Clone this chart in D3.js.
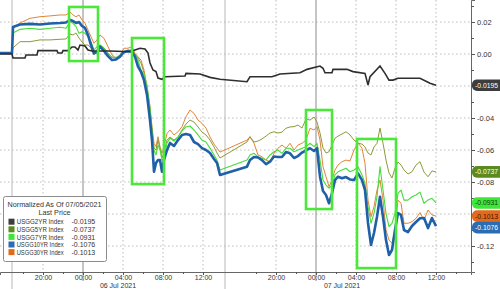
<!DOCTYPE html>
<html>
<head>
<meta charset="utf-8">
<script src="https://d3js.org/d3.v7.min.js"></script>
<style>
  body { margin: 0; background: #fff; }
  text { font-family: "Liberation Sans", Arial, sans-serif; fill: #333; }
</style>
</head>
<body>
<script>
    // time = hours from 06 Jul 2021 00:00 (the evening gap on 06 Jul is squeezed out)
    var times = [-8.3, -7.1, -7.0, -6.3, -5.3, -4.3, -3.3, -2.3, -1.7, -1.3,
                 -1.0, -0.7, -0.4, -0.1, 0.2, 0.5, 0.8, 1.1, 1.4, 1.7,
                 2.1, 2.5, 2.9, 3.3, 3.7, 4.1, 4.5, 4.9, 5.2, 5.5,
                 5.8, 6.1, 6.4, 6.7, 6.9, 7.1, 7.3, 7.5, 7.7, 7.9,
                 8.1, 8.4, 8.7, 9.1, 9.5, 9.9, 10.3, 10.7, 11.1, 11.5,
                 11.9, 12.3, 12.7, 13.1, 13.4, 13.7,
                 17.1, 17.4, 17.8, 18.2,
                 18.6, 19.0, 19.4, 19.8, 20.2, 20.6, 21.0, 21.4, 21.8, 22.2,
                 22.6, 23.0, 23.4, 23.8, 24.1, 24.4, 24.7, 25.0, 25.3, 25.6,
                 25.9, 26.2, 26.6, 27.0, 27.4, 27.8, 28.2, 28.6, 28.9, 29.2,
                 29.5, 29.8, 30.1, 30.4, 30.7, 31.0, 31.3, 31.6, 31.9, 32.2,
                 32.5, 32.8, 33.2, 33.6, 34.0, 34.4, 34.8, 35.2, 35.6, 36.0];

    var usgg5 = [0.0006, 0.0006, 0.0038, 0.0077, 0.0077, 0.0088, 0.0088, 0.0092, 0.0094, 0.0125,
                 0.0119, 0.0131, 0.01, 0.0075, 0.0056, 0.0056, 0.0038, -0.0006, 0.0025, 0.0056,
                 0.0038, 0.0006, -0.0019, -0.0025, -0.0013, 0.0013, 0.0019, 0.0025, 0, -0.0025,
                 -0.0056, -0.0119, -0.0225, -0.035, -0.0475, -0.0588, -0.06, -0.0538, -0.0588, -0.065,
                 -0.0613, -0.0538, -0.0519, -0.0538, -0.0519, -0.0475, -0.0438, -0.0413, -0.0425, -0.0456,
                 -0.0488, -0.0506, -0.0538, -0.0581, -0.0619, -0.065,
                 -0.055, -0.0517, -0.055, -0.0544,
                 -0.0531, -0.0513, -0.0494, -0.0486, -0.0494, -0.0488, -0.0464, -0.0456, -0.0454, -0.0444,
                 -0.0463, -0.0406, -0.0413, -0.0394, -0.0425, -0.0494, -0.0588, -0.0619, -0.0611, -0.0569,
                 -0.0527, -0.0513, -0.05, -0.0486, -0.0506, -0.0538, -0.0558, -0.0563, -0.0581, -0.0619,
                 -0.0631, -0.0581, -0.0558, -0.0463, -0.0558, -0.0663, -0.0744, -0.0775, -0.0713, -0.0675,
                 -0.0694, -0.0725, -0.075, -0.0736, -0.0694, -0.0673, -0.0738, -0.0767, -0.0731, -0.0737];

    var usgg7 = [0.0006, 0.0006, 0.0131, 0.0154, 0.0161, 0.0154, 0.0161, 0.0167, 0.0161, 0.0202,
                 0.0192, 0.0171, 0.0129, 0.0139, 0.0129, 0.0108, 0.0077, 0.0025, 0.0046, 0.0056,
                 0.0036, 0.0004, -0.0021, -0.0021, -0.0006, 0.0014, 0.0025, 0.0025, -0.0006, -0.0038,
                 -0.01, -0.0131, -0.0194, -0.0338, -0.0475, -0.06, -0.0631, -0.0569, -0.06, -0.0663,
                 -0.065, -0.0556, -0.0525, -0.0544, -0.0519, -0.0481, -0.0456, -0.045, -0.0475, -0.0506,
                 -0.0538, -0.055, -0.0588, -0.0631, -0.0663, -0.0725,
                 -0.0663, -0.0631, -0.0621, -0.0642,
                 -0.0652, -0.0663, -0.0631, -0.0611, -0.06, -0.0621, -0.0589, -0.0589, -0.0611, -0.06,
                 -0.0589, -0.0579, -0.0558, -0.0579, -0.0558, -0.0663, -0.0788, -0.0819, -0.0839, -0.0819,
                 -0.0756, -0.0736, -0.0725, -0.0714, -0.0736, -0.0725, -0.0704, -0.0756, -0.0808, -0.0954,
                 -0.1058, -0.0996, -0.0892, -0.0704, -0.085, -0.0996, -0.1079, -0.1058, -0.0996, -0.0871,
                 -0.085, -0.0913, -0.0913, -0.0892, -0.0881, -0.0863, -0.0933, -0.0913, -0.0902, -0.0931];

    var usgg10 = [0.0006, 0.0006, 0.0169, 0.0184, 0.0188, 0.0184, 0.0191, 0.0194, 0.0197, 0.0213,
                  0.0206, 0.0194, 0.02, 0.0175, 0.0163, 0.0119, 0.0056, 0.0004, 0.0014, 0.0046,
                  0.0019, -0.0013, -0.0038, -0.0034, -0.0017, 0.0013, 0.0019, 0.0014, -0.0017, -0.0079,
                  -0.0111, -0.0163, -0.0256, -0.0413, -0.0538, -0.0736, -0.0681, -0.0663, -0.0663, -0.0736,
                  -0.0663, -0.06, -0.0556, -0.0575, -0.0538, -0.0506, -0.05, -0.0506, -0.055, -0.0563,
                  -0.0588, -0.06, -0.0619, -0.0656, -0.0681, -0.0756,
                  -0.0704, -0.0663, -0.0644, -0.0647,
                  -0.0663, -0.0688, -0.0673, -0.0641, -0.0644, -0.0644, -0.0613, -0.0621, -0.065, -0.0638,
                  -0.0616, -0.0603, -0.0589, -0.0606, -0.0589, -0.0767, -0.0856, -0.0881, -0.0933, -0.0871,
                  -0.0788, -0.0767, -0.0777, -0.0769, -0.0784, -0.0788, -0.0746, -0.0788, -0.085, -0.1056,
                  -0.1194, -0.1119, -0.1017, -0.0892, -0.1017, -0.1163, -0.1256, -0.1225, -0.11, -0.0994,
                  -0.1006, -0.11, -0.1113, -0.1075, -0.105, -0.1027, -0.1025, -0.1088, -0.1025, -0.1076];

    var usgg30 = [0.0006, 0.0006, 0.0163, 0.0194, 0.0223, 0.0233, 0.0238, 0.0244, 0.0244, 0.0263,
                  0.0244, 0.0233, 0.0244, 0.0213, 0.0192, 0.015, 0.0108, 0.0067, 0.0088, 0.0119,
                  0.0098, 0.0046, -0.0006, -0.0027, -0.0006, 0.0036, 0.0036, 0.0046, 0.0004, -0.0017,
                  -0.0038, -0.01, -0.0204, -0.0329, -0.0454, -0.0558, -0.0579, -0.0517, -0.0579, -0.0621,
                  -0.0579, -0.0496, -0.0475, -0.0506, -0.0486, -0.0454, -0.0392, -0.035, -0.0371, -0.0413,
                  -0.0433, -0.0463, -0.0519, -0.0563, -0.0588, -0.0613,
                  -0.0538, -0.0517, -0.0558, -0.0631,
                  -0.0642, -0.0663, -0.0673, -0.0621, -0.0589, -0.0569, -0.0589, -0.0558, -0.06, -0.0569,
                  -0.0558, -0.0538, -0.0464, -0.0475, -0.0454, -0.0538, -0.0704, -0.0767, -0.0829, -0.0788,
                  -0.0725, -0.0694, -0.0673, -0.0663, -0.0669, -0.06, -0.0556, -0.0589, -0.0683, -0.0913,
                  -0.1017, -0.0954, -0.085, -0.0788, -0.0913, -0.11, -0.1163, -0.1183, -0.11, -0.0913,
                  -0.0933, -0.1058, -0.1058, -0.1048, -0.1027, -0.0991, -0.1038, -0.0975, -0.1006, -0.1013];

    // 2yr moves in steps, so it keeps its own time stamps
    var usgg2Times = [-8.3, -7.1, -7.0, -5.8, -5.7, -4.6, -4.5, -2.6, -2.5, -2.1,
                      -2.0, -1.5, -1.1, -0.8, -0.5, -0.3, 0.2, 0.5, 0.9, 2.7,
                      4.7, 5.2, 5.7, 6.2, 6.5, 6.7, 7.0, 7.3, 7.5, 7.9,
                      8.2, 10.2, 10.3, 11.7, 12.7, 13.7, 17.1, 17.4, 19.6, 20.4,
                      22.4, 23.1, 24.4, 24.7, 24.9, 25.6, 25.7, 27.1, 27.7, 28.9,
                      29.2, 29.4, 30.4, 30.9, 31.3, 31.7, 32.2, 34.4, 35.1, 35.4, 36.0];
    var usgg2 = [0, 0, -0.0025, -0.0025, -0.0006, -0.0006, 0.0021, 0.0021, 0.0006, 0.0006,
                 0.0021, 0.0021, 0.0044, 0.0044, 0.0025, 0.0056, 0.005, 0.0025, 0.0019, 0.0019,
                 0.0014, 0.0025, 0.0036, 0.0031, 0.0006, -0.0056, -0.01, -0.011, -0.015, -0.0158,
                 -0.0142, -0.0138, -0.0121, -0.0125, -0.0146, -0.0158, -0.0173, -0.0142, -0.0142, -0.0125,
                 -0.0117, -0.0096, -0.0075, -0.0089, -0.0117, -0.0117, -0.0096, -0.0096, -0.011, -0.0121,
                 -0.0194, -0.0142, -0.0075, -0.0121, -0.0163, -0.0163, -0.0152, -0.0152, -0.0173, -0.0183, -0.0195];

    var names = ["USGG2YR Index", "USGG5YR Index", "USGG7YR Index", "USGG10YR Index", "USGG30YR Index"];
    var lastPrices = [-0.0195, -0.0737, -0.0931, -0.1076, -0.1013];
    var legendColors = ["#3d3d3d", "#5b8a1f", "#3ee63a", "#2b6cb3", "#e36a1c"];
    var labelText = ["#fff", "#fff", "#1d3d12", "#fff", "#3a1800"];

    var yTicks = [0.02, 0, -0.02, -0.04, -0.06, -0.08, -0.10, -0.12];
    var yMinor = [0.03, 0.01, -0.01, -0.03, -0.05, -0.07, -0.09, -0.11, -0.13];
    var xTicks = [-4, 0, 4, 8, 12, 20, 24, 28, 32, 36];
    var xMinor = [-6, -2, 2, 6, 10, 18, 22, 26, 30, 34, 38];
    var dayBreaks = [0, 24];
    var sessionBreaks = [-7.1, 14.2];
    var dayLabels = ["06 Jul 2021", "07 Jul 2021"];
    var dayLabelTimes = [3.5, 26.6];

    // green highlight boxes: [start hour, end hour, top value, bottom value]
    var boxStart = [-1.4, 4.9, 23.0, 28.1];
    var boxEnd = [1.5, 8.1, 25.6, 32.0];
    var boxTop = [0.0294, 0.01, -0.035, -0.0531];
    var boxBottom = [-0.0044, -0.0813, -0.0969, -0.1338];

    width = 500;
    height = 289;

    var x = d3.scaleLinear()
              .domain([-8.3, 14.2, 14.9, 39.5])
              .range([0, 225, 225, 471]);

    var y = d3.scaleLinear()
              .domain([0.03375, -0.13625])
              .range([0, 272]);

    var svg = d3.select("body").append("svg")
                .attr("width", width)
                .attr("height", height);

    // dotted grid
    svg.selectAll(".hgrid").data(yTicks).enter().append("line")
       .attr("x1", 0).attr("x2", 471)
       .attr("y1", function(d){return y(d);}).attr("y2", function(d){return y(d);})
       .attr("stroke", "#bdbdbd").attr("stroke-dasharray", "1.5,2.5");

    svg.selectAll(".vgrid").data(xTicks.filter(function(d){return dayBreaks.indexOf(d) < 0;}))
       .enter().append("line")
       .attr("x1", function(d){return x(d);}).attr("x2", function(d){return x(d);})
       .attr("y1", 0).attr("y2", 272)
       .attr("stroke", "#bdbdbd").attr("stroke-dasharray", "1.5,2.5");

    svg.selectAll(".daybreak").data(dayBreaks).enter().append("line")
       .attr("x1", function(d){return x(d);}).attr("x2", function(d){return x(d);})
       .attr("y1", 0).attr("y2", 281)
       .attr("stroke", "#8a8a8a");

    svg.selectAll(".sessbreak").data(sessionBreaks).enter().append("line")
       .attr("x1", function(d){return x(d);}).attr("x2", function(d){return x(d);})
       .attr("y1", 0).attr("y2", 289)
       .attr("stroke", "#b8b8b8");

    // series
    var line = d3.line()
                 .x(function(d){return x(d[0]);})
                 .y(function(d){return y(d[1]);});

    function pairs(t, v) { return t.map(function(d, i){return [d, v[i]];}); }

    var drawn = [
      {v: usgg30, c: "#e0863a", w: 1},
      {v: usgg5, c: "#8f9a3a", w: 1},
      {v: usgg7, c: "#46dd3a", w: 1.1},
      {v: usgg10, c: "#2060a8", w: 2.6}
    ];
    drawn.forEach(function(s){
      svg.append("path")
         .attr("d", line(pairs(times, s.v)))
         .attr("fill", "none")
         .attr("stroke", s.c)
         .attr("stroke-width", s.w)
         .attr("stroke-linejoin", "round");
    });
    svg.append("path")
       .attr("d", line(pairs(usgg2Times, usgg2)))
       .attr("fill", "none")
       .attr("stroke", "#2e2e2e")
       .attr("stroke-width", 1.6);

    // highlight boxes
    svg.selectAll(".hl").data(boxStart).enter().append("rect")
       .attr("x", function(d){return x(d);})
       .attr("y", function(d, i){return y(boxTop[i]);})
       .attr("width", function(d, i){return x(boxEnd[i]) - x(d);})
       .attr("height", function(d, i){return y(boxBottom[i]) - y(boxTop[i]);})
       .attr("fill", "none")
       .attr("stroke", "#4be83a")
       .attr("stroke-width", 2.6);

    // last price tags on the right axis, pushed apart where they would overlap
    var tags = names.map(function(d, i){return {i: i, yy: y(lastPrices[i])};})
                    .sort(function(a, b){return a.yy - b.yy;});
    for (var k = 1; k < tags.length; k++) {
      if (tags[k].yy - tags[k-1].yy < 11.5) tags[k].yy = tags[k-1].yy + 11.5;
    }
    // an axis label sitting under a tag is not shown
    function covered(v) {
      return tags.some(function(t){return Math.abs(t.yy - y(v)) < 9;});
    }

    // right axis
    var yAxis = d3.axisRight(y)
                  .tickValues(yTicks)
                  .tickSize(4)
                  .tickPadding(2)
                  .tickFormat(function(d){return covered(d) ? "" : d.toFixed(2);});
    svg.append("g").attr("transform", "translate(471,0)").call(yAxis);
    svg.append("g").attr("transform", "translate(471,0)")
       .call(d3.axisRight(y).tickValues(yMinor).tickSize(3).tickFormat(""))
       .select(".domain").remove();

    // bottom axis
    var xAxis = d3.axisBottom(x)
                  .tickValues(xTicks)
                  .tickSize(3)
                  .tickPadding(0)
                  .tickFormat(function(d){
                    var h = ((d % 24) + 24) % 24;
                    return (h < 10 ? "0" : "") + h + ":00";
                  });
    var xa = svg.append("g").attr("transform", "translate(0,272)").call(xAxis);
    svg.append("g").attr("transform", "translate(0,272)")
       .call(d3.axisBottom(x).tickValues(xMinor).tickSize(2).tickFormat(""))
       .select(".domain").remove();

    svg.selectAll(".tick line").attr("stroke", "#555");
    svg.selectAll(".domain").attr("stroke", "#666");
    svg.selectAll(".tick text").attr("font-size", 7.5).attr("fill", "#333");
    xa.selectAll(".tick text").attr("font-size", 7);

    svg.selectAll(".daylbl").data(dayLabels).enter().append("text")
       .attr("x", function(d, i){return x(dayLabelTimes[i]);})
       .attr("y", 287.5)
       .attr("text-anchor", "middle")
       .attr("font-size", 7)
       .text(function(d){return d;});

    var tag = svg.selectAll(".tag").data(tags).enter().append("g")
                 .attr("transform", function(d){return "translate(472," + d.yy + ")";});
    tag.append("rect")
       .attr("x", 0).attr("y", -5.8)
       .attr("width", 40).attr("height", 11.6)
       .attr("rx", 5)
       .attr("fill", function(d){return legendColors[d.i];});
    tag.append("text")
       .attr("x", 3).attr("y", 2.5)
       .attr("font-size", 6.8)
       .style("fill", function(d){return labelText[d.i];})
       .text(function(d){return lastPrices[d.i].toFixed(4);});

    // legend
    var legend = svg.append("g").attr("transform", "translate(3.5,196.5)");
    legend.append("rect")
          .attr("width", 103).attr("height", 65)
          .attr("rx", 2)
          .attr("fill", "#fff")
          .attr("stroke", "#8c8c8c");
    legend.append("text").attr("x", 51).attr("y", 10.8)
          .attr("text-anchor", "middle").attr("font-size", 7.2)
          .text("Normalized As Of 07/05/2021");
    legend.append("text").attr("x", 51).attr("y", 18.4)
          .attr("text-anchor", "middle").attr("font-size", 7.2)
          .text("Last Price");
    var row = legend.selectAll(".row").data(names).enter().append("g")
                    .attr("transform", function(d, i){return "translate(0," + (25.2 + i * 7.6) + ")";});
    row.append("rect")
       .attr("x", 5).attr("y", -3).attr("width", 6).attr("height", 6)
       .attr("fill", function(d, i){return legendColors[i];});
    row.append("text")
       .attr("x", 13.2).attr("y", 2.6)
       .attr("font-size", 6.4)
       .attr("textLength", 47).attr("lengthAdjust", "spacingAndGlyphs")
       .text(function(d){return d;});
    row.append("text")
       .attr("x", 68).attr("y", 2.6)
       .attr("font-size", 7)
       .text(function(d, i){return lastPrices[i].toFixed(4);});
</script>
</body>
</html>
